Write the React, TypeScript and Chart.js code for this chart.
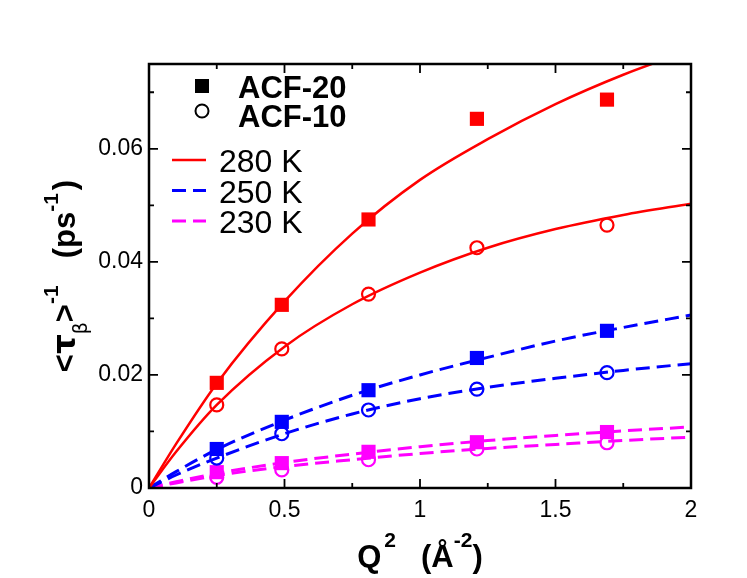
import React, { useEffect, useRef } from 'react';
import { Chart, registerables } from 'chart.js';

Chart.register(...registerables);

const FONT = '"Liberation Sans", Arial, Helvetica, sans-serif';
const GREEK = '"DejaVu Sans", sans-serif';

// measured points, Q^2 in 1/A^2
const qSquared = [0.25, 0.49, 0.81, 1.21, 1.69];
const acf20At280 = [0.0186, 0.0324, 0.0475, 0.0653, 0.0687];
const acf10At280 = [0.0147, 0.0246, 0.0343, 0.0425, 0.0465];
const acf20At250 = [0.0069, 0.0117, 0.0173, 0.023, 0.0278];
const acf10At250 = [0.0053, 0.0096, 0.0138, 0.0175, 0.0204];
const acf20At230 = [0.0028, 0.0044, 0.0064, 0.0081, 0.0099];
const acf10At230 = [0.0019, 0.0032, 0.005, 0.0069, 0.008];

// fitted curves
const fitQ = [0, 0.1, 0.25, 0.5, 0.75, 1, 1.25, 1.5, 1.75, 2];
const fit20At280 = [0, 0.0078, 0.0185, 0.033, 0.045, 0.0545, 0.0617, 0.0679, 0.0731, 0.0775];
const fit10At280 = [0, 0.0064, 0.0147, 0.025, 0.0325, 0.0381, 0.0425, 0.0458, 0.0483, 0.0503];
const fit20At250 = [0, 0.0029, 0.0068, 0.012, 0.0164, 0.02, 0.0231, 0.026, 0.0284, 0.0306];
const fit10At250 = [0, 0.0023, 0.0053, 0.0096, 0.0131, 0.0158, 0.0178, 0.0194, 0.0208, 0.022];
const fit20At230 = [0, 0.0011, 0.0026, 0.0045, 0.006, 0.0073, 0.0084, 0.0093, 0.0101, 0.0108];
const fit10At230 = [0, 0.0009, 0.0022, 0.0038, 0.005, 0.0061, 0.007, 0.0077, 0.0084, 0.009];

const markerLabels = ['ACF-20', 'ACF-10'];
const tempLabels = ['280 K', '250 K', '230 K'];

const RED = '#ff0000';
const BLUE = '#0000ff';
const MAGENTA = '#ff00ff';
const tempColors = [RED, BLUE, MAGENTA];
const tempDash = [[], [14, 7], [14, 7]];
const tempWidth = [2.5, 3, 3];

const pairs = (xs: number[], ys: number[]) => xs.map((x, i) => ({ x, y: ys[i] }));

type Run = { text: string; font: string; dy?: number; gap?: number };

const runsWidth = (ctx: CanvasRenderingContext2D, runs: Run[]) =>
    runs.reduce((w, r) => {
        ctx.font = r.font;
        return w + (r.gap || 0) + ctx.measureText(r.text).width;
    }, 0);

const drawRuns = (ctx: CanvasRenderingContext2D, runs: Run[], x: number, y: number) => {
    let cx = x;
    runs.forEach((r) => {
        cx += r.gap || 0;
        ctx.font = r.font;
        ctx.fillText(r.text, cx, y + (r.dy || 0));
        cx += ctx.measureText(r.text).width;
    });
};

const B31 = `bold 31px ${FONT}`;
const B21 = `bold 21px ${FONT}`;

const xTitle: Run[] = [
    { text: 'Q', font: B31 },
    { text: '2', font: B21, dy: -20, gap: 3 },
    { text: '(Å', font: B31, gap: 25 },
    { text: '-2', font: B21, dy: -20 },
    { text: ')', font: B31 },
];

const yTitle: Run[] = [
    { text: '<', font: B31 },
    { text: 'τ', font: `bold 31px ${GREEK}` },
    { text: 'β', font: `19px ${GREEK}`, dy: 12 },
    { text: '>', font: B31 },
    { text: '-1', font: B21, dy: -17 },
    { text: '(ps', font: B31, gap: 27 },
    { text: '-1', font: B21, dy: -17 },
    { text: ')', font: B31, gap: 3 },
];

const decorPlugin = {
    id: 'decor',
    afterDraw(chart: any) {
        const { ctx, chartArea: a, scales } = chart;
        ctx.save();
        ctx.strokeStyle = '#000';
        ctx.fillStyle = '#000';

        // inward ticks on all four sides
        ctx.lineWidth = 1.8;
        scales.x.ticks.forEach((t: any) => {
            const px = scales.x.getPixelForValue(t.value);
            const len = t.label !== '' ? 9 : 5;
            ctx.beginPath();
            ctx.moveTo(px, a.bottom);
            ctx.lineTo(px, a.bottom - len);
            ctx.moveTo(px, a.top);
            ctx.lineTo(px, a.top + len);
            ctx.stroke();
        });
        scales.y.ticks.forEach((t: any) => {
            const py = scales.y.getPixelForValue(t.value);
            const len = t.label !== '' ? 9 : 5;
            ctx.beginPath();
            ctx.moveTo(a.left, py);
            ctx.lineTo(a.left + len, py);
            ctx.moveTo(a.right, py);
            ctx.lineTo(a.right - len, py);
            ctx.stroke();
        });

        ctx.lineWidth = 2.5;
        ctx.strokeRect(a.left, a.top, a.right - a.left, a.bottom - a.top);

        // legend
        const lx = a.left + 53;
        ctx.textBaseline = 'alphabetic';
        ctx.textAlign = 'left';
        ctx.fillRect(lx - 7, a.top + 15, 14, 14);
        ctx.lineWidth = 2;
        ctx.beginPath();
        ctx.arc(lx, a.top + 47, 6.5, 0, Math.PI * 2);
        ctx.stroke();
        ctx.font = B31;
        markerLabels.forEach((lab, i) => ctx.fillText(lab, a.left + 89, a.top + 34 + i * 29));

        ctx.font = `32px ${FONT}`;
        tempLabels.forEach((lab, i) => {
            const y = a.top + 96 + i * 30.5;
            ctx.strokeStyle = tempColors[i];
            ctx.lineWidth = tempWidth[i];
            ctx.setLineDash(tempDash[i]);
            ctx.beginPath();
            ctx.moveTo(a.left + 23, y);
            ctx.lineTo(a.left + 57, y);
            ctx.stroke();
            ctx.setLineDash([]);
            ctx.fillText(lab, a.left + 70, y + 12);
        });

        // axis titles
        const cx = (a.left + a.right) / 2;
        drawRuns(ctx, xTitle, cx - runsWidth(ctx, xTitle) / 2, 567);

        const cy = (a.top + a.bottom) / 2;
        ctx.translate(75, cy);
        ctx.rotate(-Math.PI / 2);
        drawRuns(ctx, yTitle, -runsWidth(ctx, yTitle) / 2, 0);
        ctx.restore();
    },
};

const fitLine = (ys: number[], i: number) => ({
    data: pairs(fitQ, ys),
    showLine: true,
    borderColor: tempColors[i],
    borderWidth: tempWidth[i],
    borderDash: tempDash[i],
    pointRadius: 0,
    cubicInterpolationMode: 'monotone' as const,
    fill: false,
});

const squares = (ys: number[], i: number) => ({
    data: pairs(qSquared, ys),
    pointStyle: 'rect',
    pointRadius: 10,
    borderWidth: 0,
    backgroundColor: tempColors[i],
    borderColor: tempColors[i],
});

const circles = (ys: number[], i: number) => ({
    data: pairs(qSquared, ys),
    pointStyle: 'circle',
    pointRadius: 6.5,
    borderWidth: 2.2,
    backgroundColor: 'rgba(0,0,0,0)',
    borderColor: tempColors[i],
});

const App = () => {
    const chartRef = useRef<HTMLCanvasElement>(null);

    useEffect(() => {
        const tickFont = { family: FONT, size: 23 };
        const chartInstance = new Chart(chartRef.current as HTMLCanvasElement, {
            type: 'scatter',
            data: {
                datasets: [
                    squares(acf20At280, 0),
                    circles(acf10At280, 0),
                    squares(acf20At250, 1),
                    circles(acf10At250, 1),
                    squares(acf20At230, 2),
                    circles(acf10At230, 2),
                    fitLine(fit20At280, 0),
                    fitLine(fit10At280, 0),
                    fitLine(fit20At250, 1),
                    fitLine(fit10At250, 1),
                    fitLine(fit20At230, 2),
                    fitLine(fit10At230, 2),
                ] as any,
            },
            options: {
                animation: false,
                responsive: true,
                maintainAspectRatio: false,
                layout: { padding: { top: 64, right: 56, left: 0, bottom: 0 } },
                plugins: { legend: { display: false }, tooltip: { enabled: false } },
                scales: {
                    x: {
                        type: 'linear',
                        min: 0,
                        max: 2,
                        grid: { display: false, drawTicks: false },
                        border: { display: false },
                        ticks: {
                            stepSize: 0.25,
                            autoSkip: false,
                            includeBounds: false,
                            maxRotation: 0,
                            padding: 9,
                            color: '#000',
                            font: tickFont,
                            callback: (v: any) => (Math.round(v * 4) % 2 === 0 ? String(v) : ''),
                        },
                        afterFit: (s: any) => {
                            s.height = 90;
                        },
                    },
                    y: {
                        type: 'linear',
                        min: 0,
                        max: 0.075,
                        grid: { display: false, drawTicks: false },
                        border: { display: false },
                        ticks: {
                            stepSize: 0.01,
                            autoSkip: false,
                            includeBounds: false,
                            padding: 6,
                            color: '#000',
                            font: tickFont,
                            callback: (v: any) => {
                                const n = Math.round(v * 100);
                                if (n % 2 !== 0) return '';
                                return n === 0 ? '0' : (n / 100).toFixed(2);
                            },
                        },
                        afterFit: (s: any) => {
                            s.width = 149;
                        },
                    },
                },
            },
            plugins: [decorPlugin],
        });

        return () => {
            chartInstance.destroy();
        };
    }, []);

    return (
        <div style={{ position: 'absolute', left: 0, top: 0, width: 747, height: 578, background: '#fff' }}>
            <canvas ref={chartRef} />
        </div>
    );
};

export default App;
